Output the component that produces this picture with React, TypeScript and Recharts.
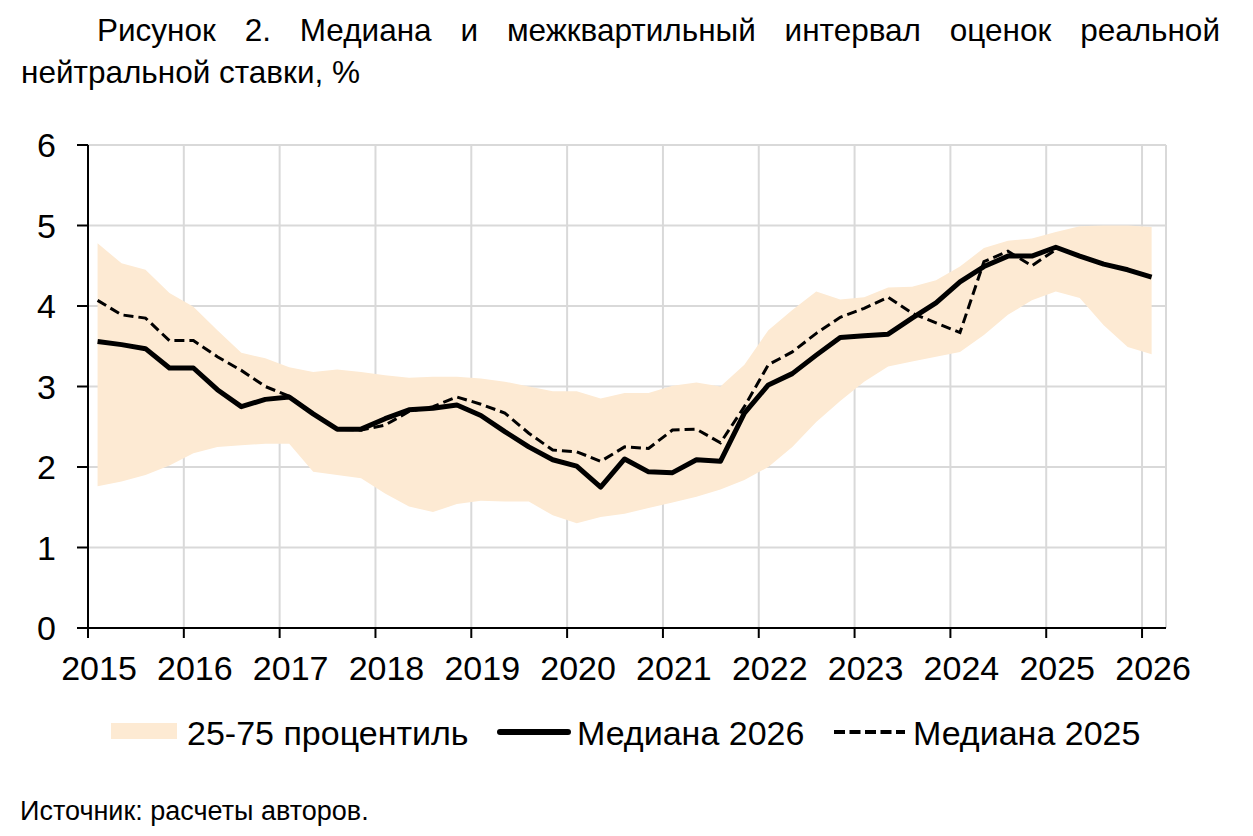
import React from 'react';
import { ComposedChart, Area, Line, XAxis, YAxis, CartesianGrid } from 'recharts';

const periods = [
  '2015 I', '2015 II', '2015 III', '2015 IV',
  '2016 I', '2016 II', '2016 III', '2016 IV',
  '2017 I', '2017 II', '2017 III', '2017 IV',
  '2018 I', '2018 II', '2018 III', '2018 IV',
  '2019 I', '2019 II', '2019 III', '2019 IV',
  '2020 I', '2020 II', '2020 III', '2020 IV',
  '2021 I', '2021 II', '2021 III', '2021 IV',
  '2022 I', '2022 II', '2022 III', '2022 IV',
  '2023 I', '2023 II', '2023 III', '2023 IV',
  '2024 I', '2024 II', '2024 III', '2024 IV',
  '2025 I', '2025 II', '2025 III', '2025 IV',
  '2026 I',
];

const median2026 = [
  3.56, 3.52, 3.47, 3.23, 3.23, 2.96, 2.75, 2.84, 2.87, 2.66,
  2.47, 2.47, 2.60, 2.71, 2.73, 2.77, 2.64, 2.44, 2.25, 2.09,
  2.01, 1.75, 2.10, 1.94, 1.93, 2.09, 2.07, 2.67, 3.02, 3.16,
  3.39, 3.61, 3.63, 3.65, 3.85, 4.04, 4.30, 4.49, 4.62, 4.62,
  4.73, 4.62, 4.52, 4.45, 4.36,
];

const median2025 = [
  4.07, 3.89, 3.85, 3.57, 3.57, 3.37, 3.20, 3.00, 2.88, 2.66,
  2.47, 2.46, 2.52, 2.69, 2.75, 2.87, 2.78, 2.67, 2.42, 2.21,
  2.19, 2.07, 2.25, 2.23, 2.46, 2.47, 2.30, 2.75, 3.27, 3.43,
  3.66, 3.86, 3.97, 4.11, 3.91, 3.79, 3.67, 4.55, 4.68, 4.50,
  4.70, null, null, null, null,
];

const p75 = [
  4.78, 4.53, 4.45, 4.16, 3.99, 3.70, 3.42, 3.35, 3.24, 3.18,
  3.21, 3.18, 3.14, 3.11, 3.12, 3.12, 3.10, 3.06, 3.00, 2.94,
  2.94, 2.85, 2.92, 2.92, 3.01, 3.05, 3.00, 3.27, 3.70, 3.95,
  4.18, 4.08, 4.11, 4.23, 4.24, 4.32, 4.49, 4.72, 4.81, 4.84,
  4.92, 4.99, 5.00, 5.00, 4.98,
];

const p25 = [
  1.76, 1.82, 1.90, 2.02, 2.17, 2.25, 2.27, 2.29, 2.29, 1.94,
  1.90, 1.86, 1.67, 1.51, 1.44, 1.54, 1.58, 1.57, 1.57, 1.40,
  1.30, 1.38, 1.42, 1.49, 1.56, 1.63, 1.72, 1.84, 2.00, 2.25,
  2.56, 2.82, 3.06, 3.25, 3.31, 3.37, 3.43, 3.64, 3.89, 4.07,
  4.18, 4.10, 3.76, 3.49, 3.40,
];

const yearTicks = [2015, 2016, 2017, 2018, 2019, 2020, 2021, 2022, 2023, 2024, 2025, 2026];
const yTicks = [0, 1, 2, 3, 4, 5, 6];

const romanToQ: Record<string, number> = { I: 0, II: 1, III: 2, IV: 3 };

const data = periods.map((p, i) => {
  const [yr, q] = p.split(' ');
  return {
    period: p,
    x: Number(yr) + 0.1 + romanToQ[q] * 0.25,
    band: [p25[i], p75[i]],
    m2026: median2026[i],
    m2025: median2025[i],
  };
});

const FONT = '"Liberation Sans", Arial, sans-serif';
const BAND = '#FDEAD3';

const XTick = (props: any) => {
  const { x, y, payload } = props;
  return (
    <text x={x + 11} y={y + 42} textAnchor="middle" fontSize={34} fontFamily={FONT} fill="#000">
      {payload.value}
    </text>
  );
};

export default function App() {
  return (
    <div style={{ position: 'absolute', left: 0, top: 0, width: 1253, height: 836, background: '#fff', fontFamily: FONT }}>
      <div
        style={{
          position: 'absolute',
          left: 97,
          top: 10,
          width: 1123,
          fontSize: 31.5,
          lineHeight: '41.6px',
          textAlign: 'justify',
          textAlignLast: 'justify',
          color: '#000',
        }}
      >
        Рисунок 2. Медиана и межквартильный интервал оценок реальной
      </div>
      <div
        style={{
          position: 'absolute',
          left: 21,
          top: 52,
          fontSize: 31.5,
          lineHeight: '41.6px',
          color: '#000',
          whiteSpace: 'nowrap',
        }}
      >
        нейтральной ставки, %
      </div>

      <div style={{ position: 'absolute', left: 0, top: 0 }}>
        <ComposedChart
          width={1253}
          height={700}
          data={data}
          margin={{ top: 145, right: 87, left: 0, bottom: 12 }}
        >
          <CartesianGrid stroke="#d9d9d9" strokeWidth={2} />
          <XAxis
            dataKey="x"
            type="number"
            domain={[2015, 2026.25]}
            ticks={yearTicks}
            allowDataOverflow
            height={60}
            tickSize={10}
            tickMargin={0}
            axisLine={{ stroke: '#000', strokeWidth: 2 }}
            tickLine={{ stroke: '#000', strokeWidth: 2 }}
            tick={<XTick />}
            interval={0}
          />
          <YAxis
            type="number"
            domain={[0, 6]}
            ticks={yTicks}
            width={88}
            tickSize={11}
            tickMargin={21}
            axisLine={{ stroke: '#000', strokeWidth: 2 }}
            tickLine={{ stroke: '#000', strokeWidth: 2 }}
            tick={{ fontSize: 34, fill: '#000', fontFamily: FONT }}
            interval={0}
          />
          <Area
            dataKey="band"
            type="linear"
            stroke="none"
            fill={BAND}
            fillOpacity={1}
            isAnimationActive={false}
            dot={false}
            activeDot={false}
          />
          <Line
            dataKey="m2025"
            type="linear"
            stroke="#000"
            strokeWidth={3}
            strokeDasharray="10 5"
            dot={false}
            activeDot={false}
            isAnimationActive={false}
          />
          <Line
            dataKey="m2026"
            type="linear"
            stroke="#000"
            strokeWidth={5}
            strokeLinejoin="round"
            dot={false}
            activeDot={false}
            isAnimationActive={false}
          />
        </ComposedChart>
      </div>

      <svg
        width={1253}
        height={836}
        style={{ position: 'absolute', left: 0, top: 0, pointerEvents: 'none' }}
      >
        <rect x={111} y={723} width={66} height={16} fill={BAND} />
        <text x={187} y={745} fontSize={34} fontFamily={FONT} fill="#000">25-75 процентиль</text>
        <line x1={500} y1={732} x2={568} y2={732} stroke="#000" strokeWidth={6} strokeLinecap="round" />
        <text x={577} y={745} fontSize={34} fontFamily={FONT} fill="#000">Медиана 2026</text>
        <line x1={834} y1={732} x2={905} y2={732} stroke="#000" strokeWidth={4} strokeDasharray="11 4.5" />
        <text x={913} y={745} fontSize={34} fontFamily={FONT} fill="#000">Медиана 2025</text>
        <text x={20} y={820} fontSize={27} fontFamily={FONT} fill="#000">Источник: расчеты авторов.</text>
      </svg>
    </div>
  );
}
